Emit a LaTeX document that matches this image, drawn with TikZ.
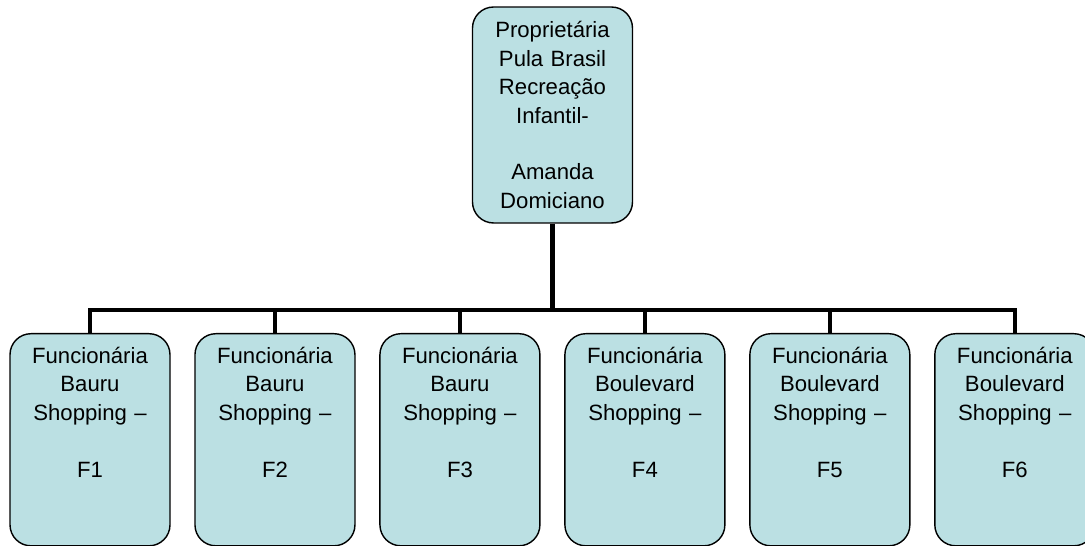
\documentclass[tikz,border=0pt]{standalone}
\usepackage{fontspec}
\setmainfont{Liberation Sans}
\usetikzlibrary{positioning}
\definecolor{caixaazul}{HTML}{BBE0E3}

\begin{document}
\begin{tikzpicture}[x=0.02cm,y=-0.02cm,node distance=3.7cm,
                    caixa/.style={rectangle,rounded corners=0.42cm,draw=black,line width=0.8pt,
                      fill=caixaazul,font=\fontsize{12.6}{16.2}\selectfont,align=center,
                      inner xsep=2pt,text width=3.06cm},
                    chefe/.style={caixa,minimum width=3.18cm,minimum height=4.32cm},
                    filial/.style={caixa,inner ysep=7.5pt,text depth=3.39cm},
                    ligacao/.style={line width=2.6pt}]
  \useasboundingbox (0,0) rectangle (1085,546);

  \node[chefe] (dona) at (552.5,115)
    {Proprietária\\Pula Brasil\\Recreação\\Infantil-\\[16.2pt]Amanda\\Domiciano};

  \node[filial,anchor=north] (f1) at (90,333) {Funcionária\\Bauru\\Shopping –\\[16.2pt]F1};
  \node[filial] (f2) [right of=f1] {Funcionária\\Bauru\\Shopping –\\[16.2pt]F2};
  \node[filial] (f3) [right of=f2] {Funcionária\\Bauru\\Shopping –\\[16.2pt]F3};
  \node[filial] (f4) [right of=f3] {Funcionária\\Boulevard\\Shopping –\\[16.2pt]F4};
  \node[filial] (f5) [right of=f4] {Funcionária\\Boulevard\\Shopping –\\[16.2pt]F5};
  \node[filial] (f6) [right of=f5] {Funcionária\\Boulevard\\Shopping –\\[16.2pt]F6};

  \coordinate (barra) at (552.5,310);
  \draw[ligacao] (dona) -- (barra);
  \foreach \i in {1,...,6}
    \draw[ligacao] (barra) -| (f\i.north);
\end{tikzpicture}
\end{document}
